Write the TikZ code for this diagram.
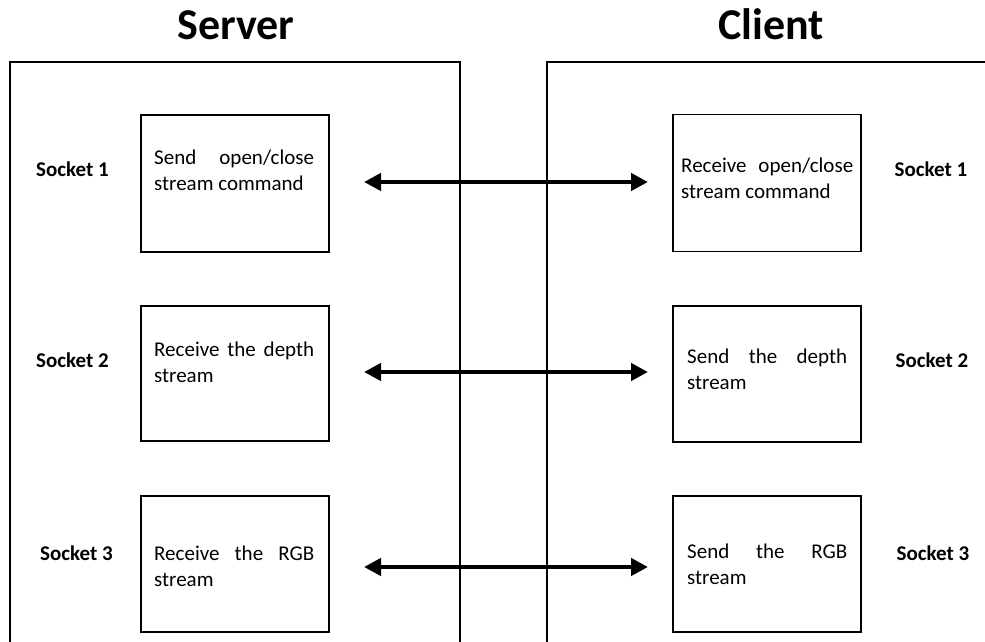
\documentclass[tikz,border=0pt]{standalone}
\usepackage{fontspec}
\setmainfont{Carlito}
\usetikzlibrary{arrows.meta}
\hyphenpenalty=10000
\tolerance=10000
\begin{document}
\begin{tikzpicture}[x=1pt,y=1pt,
  frame/.style={line width=1.2pt},
  stepbox/.style={draw, line width=1.5pt, minimum width=188pt, inner sep=0pt},
  boxtext/.style={anchor=base west, inner sep=0pt, align=justify,
    font=\fontsize{21}{26}\selectfont},
  socket/.style={anchor=base, inner sep=0pt, font=\fontsize{21}{26}\selectfont\bfseries},
  title/.style={anchor=base, inner sep=0pt, font=\fontsize{44}{50}\selectfont\bfseries},
  link/.style={line width=4.5pt, {Triangle[length=17pt,width=17pt]}-{Triangle[length=17pt,width=17pt]}}]
\useasboundingbox (0,0) rectangle (985,642);
% titles
\node[title] (tserver) at (236,602) {Server};
\node[title] (tclient) at (771,602) {Client};
% frames
\draw[frame] (10,0) |- (460,580) -- (460,0);
\draw[frame] (547,0) |- (985,580);
% boxes
\node[stepbox, minimum height=137pt] (s1) at (235,458.5) {};
\node[stepbox, minimum height=137pt] (c1) at (767,459) {};
\node[stepbox, minimum height=135pt] (s2) at (235,268.5) {};
\node[stepbox, minimum height=136pt] (c2) at (767,268) {};
\node[stepbox, minimum height=136pt] (s3) at (235,78) {};
\node[stepbox, minimum height=136pt] (c3) at (767,78) {};
% box texts
\node[boxtext, text width=160pt] (ts1) at (154,477) {Send open/close stream command};
\node[boxtext, text width=172pt] (tc1) at (681,469) {Receive open/close stream command};
\node[boxtext, text width=160pt] (ts2) at (154,285) {Receive the depth stream};
\node[boxtext, text width=160pt] (tc2) at (687,278.5) {Send the depth stream};
\node[boxtext, text width=160pt] (ts3) at (154,81) {Receive the RGB stream};
\node[boxtext, text width=160pt] (tc3) at (687,83) {Send the RGB stream};
% socket labels
\node[socket] (ls1) at (72.5,465) {Socket 1};
\node[socket] (ls2) at (72.5,274) {Socket 2};
\node[socket] (ls3) at (76.5,81) {Socket 3};
\node[socket] (lc1) at (931,465) {Socket 1};
\node[socket] (lc2) at (932,274) {Socket 2};
\node[socket] (lc3) at (933,81) {Socket 3};
% arrows
\coordinate (a1l) at (364,460); \coordinate (a1r) at (648,460);
\coordinate (a2l) at (364,270); \coordinate (a2r) at (648,270);
\coordinate (a3l) at (364,75);  \coordinate (a3r) at (648,75);
\draw[link] (a1l) -- (a1r);
\draw[link] (a2l) -- (a2r);
\draw[link] (a3l) -- (a3r);
\end{tikzpicture}
\end{document}
